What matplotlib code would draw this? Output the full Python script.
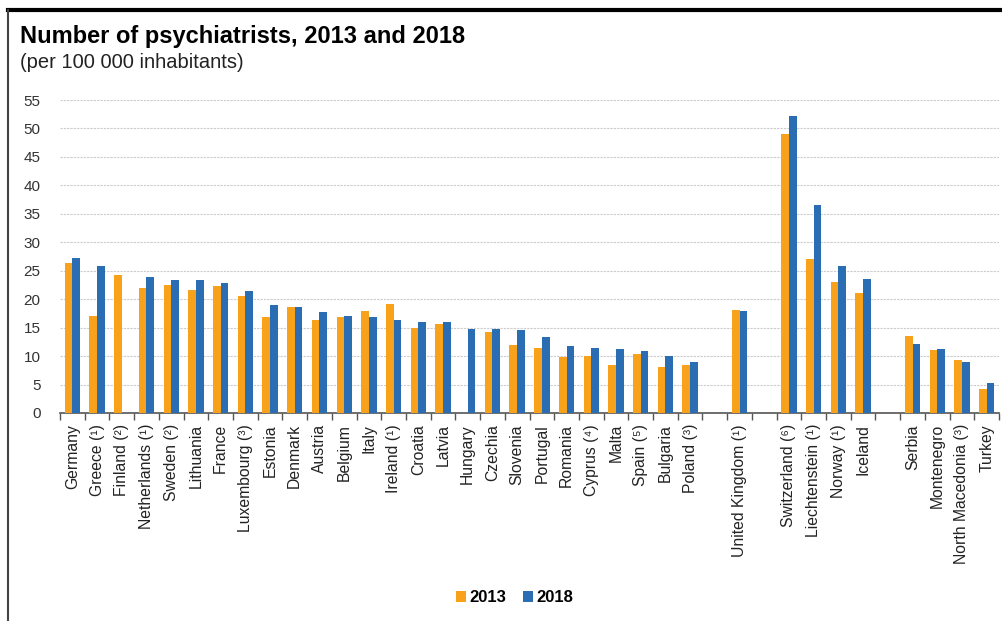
import numpy as np
import matplotlib.pyplot as plt

plt.rcParams['font.family'] = ['Liberation Sans', 'DejaVu Sans']

# Data (per 100 000 inhabitants); None = not available
eu_countries = ["Germany", "Greece (¹)", "Finland (²)", "Netherlands (¹)", "Sweden (²)",
                "Lithuania", "France", "Luxembourg (³)", "Estonia", "Denmark", "Austria",
                "Belgium", "Italy", "Ireland (¹)", "Croatia", "Latvia", "Hungary", "Czechia",
                "Slovenia", "Portugal", "Romania", "Cyprus (⁴)", "Malta", "Spain (⁵)",
                "Bulgaria", "Poland (³)"]
eu_2013 = [26.4, 17.1, 24.3, 22.0, 22.5, 21.6, 22.4, 20.5, 16.8, 18.7, 16.3, 16.8, 18.0,
           19.1, 14.9, 15.7, None, 14.3, 11.9, 11.4, 9.9, 10.1, 8.4, 10.4, 8.0, 8.5]
eu_2018 = [27.3, 25.8, None, 23.9, 23.3, 23.3, 22.8, 21.4, 19.0, 18.7, 17.7, 17.1, 16.8,
           16.3, 16.0, 16.0, 14.8, 14.8, 14.6, 13.3, 11.8, 11.5, 11.2, 10.9, 10.1, 9.0]

uk_countries = ["United Kingdom (¹)"]
uk_2013 = [18.1]
uk_2018 = [18.0]

efta_countries = ["Switzerland (⁶)", "Liechtenstein (¹)", "Norway (¹)", "Iceland"]
efta_2013 = [49.0, 27.0, 23.0, 21.1]
efta_2018 = [52.2, 36.6, 25.8, 23.5]

cand_countries = ["Serbia", "Montenegro", "North Macedonia (³)", "Turkey"]
cand_2013 = [13.5, 11.0, 9.3, 4.2]
cand_2018 = [12.1, 11.2, 9.0, 5.3]

groups = [(eu_countries, eu_2013, eu_2018),
          (uk_countries, uk_2013, uk_2018),
          (efta_countries, efta_2013, efta_2018),
          (cand_countries, cand_2013, cand_2018)]

# build slots with one empty slot between groups
labels, v13, v18 = [], [], []
for gi, (c, a, b) in enumerate(groups):
    if gi > 0:
        labels.append("")
        v13.append(None)
        v18.append(None)
    labels += c
    v13 += a
    v18 += b
n = len(labels)
x = np.arange(n) + 0.5
v13 = np.array([np.nan if v is None else v for v in v13])
v18 = np.array([np.nan if v is None else v for v in v18])

orange = '#F8A21C'
blue = '#2A6DB3'

fig = plt.figure(figsize=(10.02, 6.21), dpi=100)
ax = fig.add_axes([60 / 1002, 1 - 413 / 621, 939 / 1002, 313 / 621])

w = 0.31
ax.bar(x - w / 2, v13, width=w, color=orange, label='2013', zorder=3)
ax.bar(x + w / 2, v18, width=w, color=blue, label='2018', zorder=3)

ax.set_xlim(0, n)
ax.set_ylim(0, 55)
ax.set_yticks(np.arange(0, 56, 5))
ax.yaxis.grid(True, color='#cccccc', linestyle=(0, (2, 1)), linewidth=0.8, zorder=0)
ax.tick_params(axis='y', length=0, pad=14, labelsize=11, labelcolor='#333333')

ax.set_xticks(x)
ax.set_xticklabels(labels, rotation=90, fontsize=11.3, color='#222222')
ax.set_xticks(np.arange(0, n + 1), minor=True)
ax.tick_params(axis='x', which='major', length=0, pad=8)
ax.tick_params(axis='x', which='minor', length=5, width=1, color='#555555')

for s in ['top', 'right', 'left']:
    ax.spines[s].set_visible(False)
ax.spines['bottom'].set_color('#555555')
ax.spines['bottom'].set_linewidth(1.2)

fig.text(20 / 1002, 1 - 37 / 621, "Number of psychiatrists, 2013 and 2018",
         fontsize=17, fontweight='bold', va='center', ha='left')
fig.text(20 / 1002, 1 - 62 / 621, "(per 100 000 inhabitants)",
         fontsize=14.5, va='center', ha='left', color='#222222')

leg = fig.legend(loc='center', bbox_to_anchor=(515 / 1002, 1 - 598 / 621), ncol=2,
                 frameon=False, handlelength=0.6, handleheight=0.6, handletextpad=0.2,
                 columnspacing=1.0, prop={'weight': 'bold', 'size': 12})

# frame of the screenshot
fig.add_artist(plt.Line2D([8 / 1002, 1], [1 - 10 / 621, 1 - 10 / 621],
                          transform=fig.transFigure, color='black', linewidth=3))
fig.add_artist(plt.Line2D([8 / 1002, 8 / 1002], [0, 1 - 10 / 621],
                          transform=fig.transFigure, color='#444444', linewidth=1.5))

fig.savefig('out.png', dpi=100)
